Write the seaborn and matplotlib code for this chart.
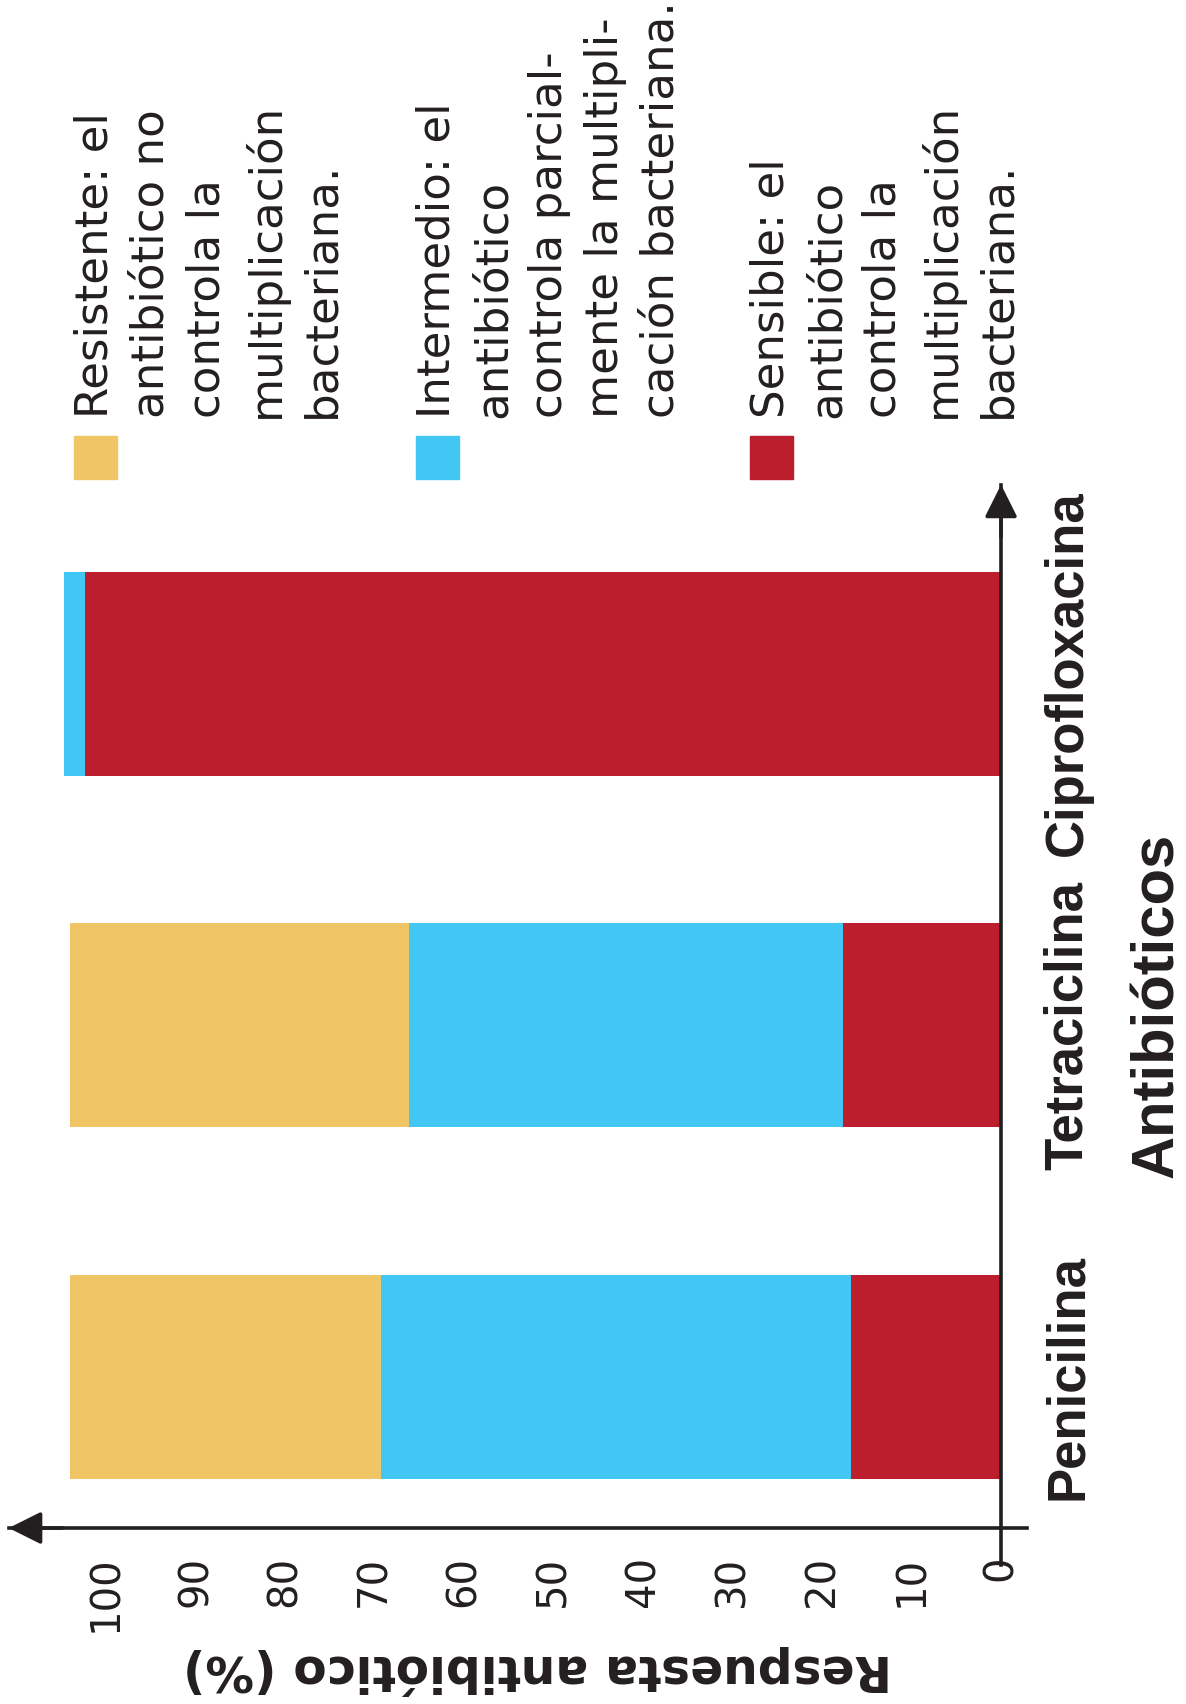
"""Stacked response bars per antibiotic, drawn turned on its side like the source page."""
import matplotlib
matplotlib.use("Agg")
import matplotlib.pyplot as plt
from matplotlib.patches import Rectangle
import pandas as pd
import seaborn as sns

# data (% of isolates)
ANTIBIOTICS = ["Ciprofloxacina", "Tetraciclina", "Penicilina"]
SENSIBLE = [102.4, 17.7, 16.8]
INTERMEDIO = [2.3, 48.5, 52.5]
RESISTENTE = [0.0, 37.9, 34.8]
VALUE_TICKS = [0, 10, 20, 30, 40, 50, 60, 70, 80, 90, 100]

LEGEND_TEXT = [
    "Resistente: el\nantibiótico no\ncontrola la\nmultiplicación\nbacteriana.",
    "Intermedio: el\nantibiótico\ncontrola parcial-\nmente la multipli-\ncación bacteriana.",
    "Sensible: el\nantibiótico\ncontrola la\nmultiplicación\nbacteriana.",
]

C_RES = "#F0C566"
C_INT = "#42C6F3"
C_SEN = "#BC1E2D"
INK = "#231F20"
NARROW = ["Liberation Sans", "DejaVu Sans"]

sns.set_style("white")
plt.rcParams["font.family"] = ["DejaVu Sans"]

df = pd.DataFrame({
    "antibiotico": ANTIBIOTICS,
    "sensible": SENSIBLE,
    "intermedio": INTERMEDIO,
    "resistente": RESISTENTE,
})
df["cum_int"] = df["sensible"] + df["intermedio"]
df["cum_res"] = df["cum_int"] + df["resistente"]

fig = plt.figure(figsize=(11.86, 17.04), dpi=100)
ax = fig.add_axes([0.00734, 0.0816, 0.8586, 0.634])

# stacked bars by layering cumulative totals
for col, c in [("cum_res", C_RES), ("cum_int", C_INT), ("sensible", C_SEN)]:
    sns.barplot(data=df, x=col, y="antibiotico", order=ANTIBIOTICS, orient="h",
                color=c, saturation=1, width=0.58, linewidth=0, edgecolor="none", ax=ax)

XMAX, XMIN = 110.9, -2.9
YBOT, YTOP = 2.534, -0.537
AXIS_Y = 2.429
ax.set_xlim(XMAX, XMIN)
ax.set_ylim(YBOT, YTOP)
ax.set_xlabel("")
ax.set_ylabel("")

for s in ["top", "left"]:
    ax.spines[s].set_visible(False)
ax.spines["bottom"].set_position(("data", AXIS_Y))
ax.spines["right"].set_position(("data", 0))
for s in ["bottom", "right"]:
    ax.spines[s].set_color(INK)
    ax.spines[s].set_linewidth(2.6)
    ax.spines[s].set_zorder(5)

ax.set_xticks(VALUE_TICKS)
ax.set_xticklabels([str(v) for v in VALUE_TICKS])
ax.tick_params(axis="x", direction="inout", length=14, width=2.2, color=INK,
               labelsize=29, labelcolor=INK, labelrotation=90, pad=13)

ax.yaxis.tick_right()
ax.tick_params(axis="y", length=0, pad=30, labelsize=38, labelcolor=INK)
for lab in ax.get_yticklabels():
    lab.set_rotation(90)
    lab.set_va("center")
    lab.set_ha("left")
    lab.set_fontweight("bold")
    lab.set_family(NARROW)

# arrow heads on both axes
arrow = dict(arrowstyle="-|>", color=INK, lw=2.6, mutation_scale=50,
             shrinkA=0, shrinkB=0)
ax.annotate("", xy=(XMAX, AXIS_Y), xytext=(XMAX - 6, AXIS_Y),
            arrowprops=arrow, annotation_clip=False)
ax.annotate("", xy=(0, YTOP), xytext=(0, YTOP + 0.15),
            arrowprops=arrow, annotation_clip=False)

fig.text(538 / 1186, 1 - 1670 / 1704, "Respuesta antibiótico (%)", rotation=180,
         ha="center", va="center", fontsize=35, fontweight="bold", color=INK)
fig.text(1158 / 1186, 1 - 1005 / 1704, "Antibióticos", rotation=90,
         ha="center", va="center", fontsize=43, fontweight="bold", color=INK,
         family=NARROW)

# legend, written sideways above the plot
for x0, c, txt in zip([74, 416, 750], [C_RES, C_INT, C_SEN], LEGEND_TEXT):
    fig.patches.append(Rectangle((x0 / 1186, 1 - 479 / 1704), 43 / 1186, 43 / 1704,
                                 transform=fig.transFigure, color=c))
    fig.text(x0 / 1186, 1 - 418 / 1704, txt, rotation=90, ha="left", va="bottom",
             multialignment="left", fontsize=32.5, linespacing=1.38, color=INK)

fig.savefig("out.png", dpi=100)
